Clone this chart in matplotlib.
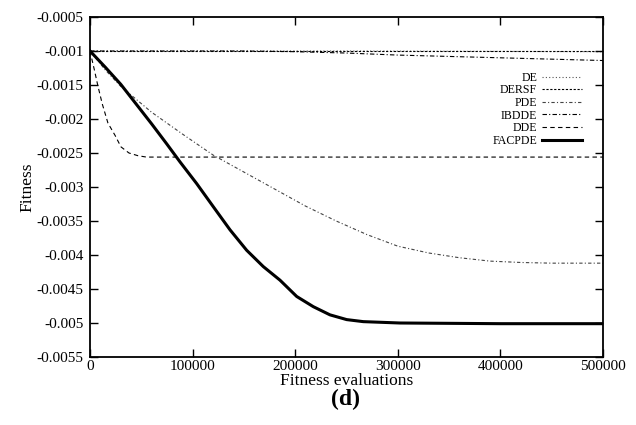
import matplotlib
matplotlib.use("Agg")
import matplotlib.pyplot as plt

plt.rcParams['font.family'] = ['Liberation Serif', 'DejaVu Serif']

# values
de_x = [0, 250000, 500000]
de_y = [-0.001, -0.001, -0.00101]

dersf_x = [0, 250000, 500000]
dersf_y = [-0.001, -0.001, -0.001]

pde_x = [0, 15000, 30000, 60000, 90000, 120000, 150000, 180000, 210000, 240000,
         270000, 300000, 330000, 360000, 390000, 420000, 450000, 500000]
pde_y = [-0.001, -0.00128, -0.00152, -0.0019, -0.00222, -0.00253, -0.00278, -0.00303,
         -0.00328, -0.0035, -0.0037, -0.00387, -0.00397, -0.00404, -0.00409, -0.00411,
         -0.00412, -0.00412]

ibdde_x = [0, 100000, 150000, 200000, 250000, 300000, 350000, 400000, 450000, 500000]
ibdde_y = [-0.001, -0.001, -0.001, -0.00101, -0.00103, -0.00106, -0.00108, -0.0011,
           -0.00112, -0.00114]

dde_x = [0, 4000, 7800, 12000, 17500, 24400, 30200, 38000, 46800, 55000, 65000, 500000]
dde_y = [-0.001, -0.00126, -0.00152, -0.00178, -0.00206, -0.00224, -0.00241, -0.0025,
         -0.00254, -0.00256, -0.00256, -0.00256]

facpde_x = [0, 15000, 30000, 45000, 60000, 75000, 87700, 104000, 120200, 136500,
            152700, 168900, 185200, 201500, 217700, 233900, 250200, 266400, 302100,
            400000, 500000]
facpde_y = [-0.001, -0.00124, -0.00149, -0.00178, -0.00207, -0.00237, -0.00263,
            -0.00295, -0.00329, -0.00363, -0.00393, -0.00417, -0.00437, -0.00461,
            -0.00476, -0.00488, -0.00495, -0.00498, -0.005, -0.00501, -0.00501]

xticks = [0, 100000, 200000, 300000, 400000, 500000]
xtick_labels = ['0', '100000', '200000', '300000', '400000', '500000']
yticks = [-0.0055, -0.005, -0.0045, -0.004, -0.0035, -0.003, -0.0025, -0.002,
          -0.0015, -0.001, -0.0005]
ytick_labels = ['-0.0055', '-0.005', '-0.0045', '-0.004', '-0.0035', '-0.003',
                '-0.0025', '-0.002', '-0.0015', '-0.001', '-0.0005']

fig = plt.figure(figsize=(6.36, 4.25), dpi=100)
ax = fig.add_axes([0.1415, 0.16, 0.8065, 0.8])

ax.plot(de_x, de_y, color='#555555', lw=0.8, ls=(0, (1, 2)), label='DE')
ax.plot(dersf_x, dersf_y, color='black', lw=0.8, ls=(0, (2, 1.5)), label='DERSF')
ax.plot(pde_x, pde_y, color='#444444', lw=0.8, ls=(0, (3, 2, 1, 2)), label='PDE')
ax.plot(ibdde_x, ibdde_y, color='black', lw=0.8, ls=(0, (4, 2, 1, 2)), label='IBDDE')
ax.plot(dde_x, dde_y, color='black', lw=0.8, ls=(0, (4, 3)), label='DDE')
ax.plot(facpde_x, facpde_y, color='black', lw=2.2, label='FACPDE')

ax.set_xlim(0, 500000)
ax.set_ylim(-0.0055, -0.0005)
ax.set_xticks(xticks)
ax.set_xticklabels(xtick_labels)
ax.set_yticks(yticks)
ax.set_yticklabels(ytick_labels)
ax.tick_params(direction='in', length=6, width=1, top=True, right=True, labelsize=11)
ax.tick_params(axis='x', pad=2.5)
ax.tick_params(axis='y', pad=4.5)
for s in ax.spines.values():
    s.set_linewidth(1.3)

ax.set_xlabel('Fitness evaluations', fontsize=12.5, labelpad=0)
ax.set_ylabel('Fitness', fontsize=12.5, labelpad=1)
fig.text(0.5425, 0.06, '(d)', ha='center', va='center', fontsize=17, fontweight='bold')

leg = ax.legend(loc='upper right', bbox_to_anchor=(0.959, 0.839), frameon=False,
                markerfirst=False, fontsize=8.6, labelspacing=0.05, handlelength=3.3,
                handletextpad=0.45, borderaxespad=0, borderpad=0)

fig.savefig('out.png', dpi=100)
